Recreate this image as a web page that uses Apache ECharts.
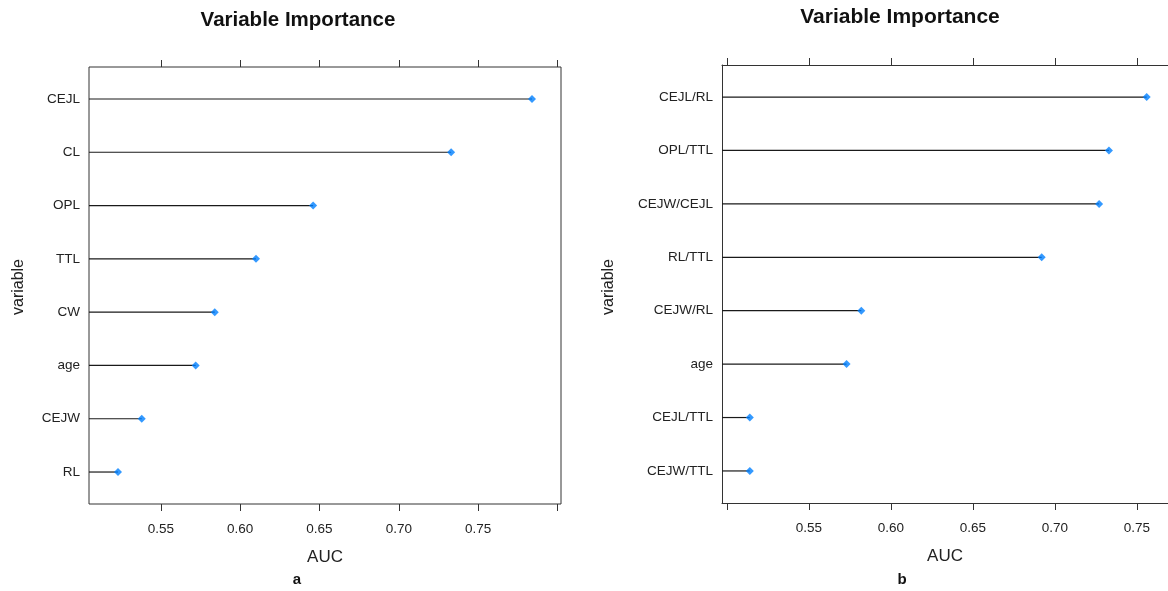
<!DOCTYPE html>
<html>
<head>
<meta charset="utf-8">
<script src="https://cdn.jsdelivr.net/npm/echarts@6/dist/echarts.min.js"></script>
<style>
  html, body { margin: 0; padding: 0; background: #fff; }
  #main { width: 1168px; height: 591px; }
</style>
</head>
<body>
<div id="main"></div>
<script>
// panel a: variables, top to bottom
var varsA = ['CEJL', 'CL', 'OPL', 'TTL', 'CW', 'age', 'CEJW', 'RL'];
var aucA = [0.784, 0.733, 0.646, 0.610, 0.584, 0.572, 0.538, 0.523];
var ticksA = [0.55, 0.60, 0.65, 0.70, 0.75, 0.80];
var tickLabelsA = [0.55, 0.60, 0.65, 0.70, 0.75];

// panel b: ratios, top to bottom
var varsB = ['CEJL/RL', 'OPL/TTL', 'CEJW/CEJL', 'RL/TTL', 'CEJW/RL', 'age', 'CEJL/TTL', 'CEJW/TTL'];
var aucB = [0.756, 0.733, 0.727, 0.692, 0.582, 0.573, 0.514, 0.514];
var ticksB = [0.50, 0.55, 0.60, 0.65, 0.70, 0.75];
var tickLabelsB = [0.55, 0.60, 0.65, 0.70, 0.75];

var FONT = 'Liberation Sans, Arial, sans-serif';
var LINE = '#1a1a1a';
var FRAME = '#333';
var DOT = '#0080ff';

// lattice style: 7% padding each side of the data range
function padRange(vals) {
  var lo = Math.min.apply(null, vals), hi = Math.max.apply(null, vals);
  var p = (hi - lo) * 0.07;
  return [lo - p, hi + p];
}
var rangeA = padRange(aucA);
// panel b is cut off at the right edge of the image
var rangeB = [padRange(aucB)[0], 0.769];

function points(vals) {
  return vals.map(function (v, i) { return [v, vals.length - i]; });
}

function xAxes(gi, range, ticks, labels, showLine) {
  var bottom = {
    type: 'value', gridIndex: gi, position: 'bottom',
    min: range[0], max: range[1],
    name: 'AUC', nameLocation: 'middle', nameGap: 45,
    nameTextStyle: { fontFamily: FONT, fontSize: 17, color: '#222' },
    axisLine: { show: showLine, lineStyle: { color: FRAME, width: 1 } },
    axisTick: { show: true, inside: false, length: 7, customValues: ticks, lineStyle: { color: FRAME } },
    axisLabel: {
      customValues: labels, margin: 18, fontFamily: FONT, fontSize: 13.5, color: '#222',
      formatter: function (v) { return v.toFixed(2); }
    },
    splitLine: { show: false }
  };
  var top = {
    type: 'value', gridIndex: gi, position: 'top',
    min: range[0], max: range[1],
    axisLine: { show: showLine, lineStyle: { color: FRAME, width: 1 } },
    axisTick: { show: true, inside: false, length: 7, customValues: ticks, lineStyle: { color: FRAME } },
    axisLabel: { show: false },
    splitLine: { show: false }
  };
  return [bottom, top];
}

function yAxis(gi, names, showLine) {
  var cv = names.map(function (n, i) { return i + 1; });
  return {
    type: 'value', gridIndex: gi, min: 0.4, max: names.length + 0.6,
    axisLine: { show: showLine, lineStyle: { color: FRAME, width: 1 } },
    axisTick: { show: false },
    splitLine: { show: false },
    axisLabel: {
      customValues: cv, margin: 9, fontFamily: FONT, fontSize: 13.5, color: '#222',
      formatter: function (v) { return names[names.length - Math.round(v)]; }
    }
  };
}

function stems(xi, yi, vals, xmin) {
  return {
    type: 'custom', xAxisIndex: xi, yAxisIndex: yi,
    data: points(vals),
    renderItem: function (params, api) {
      var y = api.value(1);
      var p0 = api.coord([xmin, y]);
      var p1 = api.coord([api.value(0), y]);
      return {
        type: 'line',
        shape: { x1: p0[0], y1: p0[1], x2: p1[0], y2: p1[1] },
        style: { stroke: LINE, lineWidth: 1.2 }
      };
    },
    silent: true
  };
}

function dots(xi, yi, vals) {
  return {
    type: 'scatter', xAxisIndex: xi, yAxisIndex: yi,
    data: points(vals),
    symbol: 'diamond', symbolSize: [8, 8],
    itemStyle: { color: DOT },
    z: 5, silent: true
  };
}

var xa = xAxes(0, rangeA, ticksA, tickLabelsA, false);
var xb = xAxes(1, rangeB, ticksB, tickLabelsB, true);

var option = {
  backgroundColor: '#fff',
  animation: false,
  grid: [
    { left: 89, top: 67, width: 472, height: 437, show: true, borderColor: FRAME, borderWidth: 1, containLabel: false },
    { left: 722, top: 65, right: 0, height: 438, show: false, containLabel: false }
  ],
  xAxis: [xa[0], xa[1], xb[0], xb[1]],
  yAxis: [yAxis(0, varsA, false), yAxis(1, varsB, true)],
  series: [
    stems(0, 0, aucA, rangeA[0]),
    dots(0, 0, aucA),
    stems(2, 1, aucB, rangeB[0]),
    dots(2, 1, aucB)
  ],
  graphic: [
    { type: 'text', x: 298, y: 20, style: { text: 'Variable Importance', font: 'bold 20.5px ' + FONT, fill: '#111', align: 'center', verticalAlign: 'middle' } },
    { type: 'text', x: 900, y: 17, style: { text: 'Variable Importance', font: 'bold 21px ' + FONT, fill: '#111', align: 'center', verticalAlign: 'middle' } },
    { type: 'text', x: 19, y: 287, rotation: Math.PI / 2, style: { text: 'variable', font: '16px ' + FONT, fill: '#222', align: 'center', verticalAlign: 'middle' } },
    { type: 'text', x: 609, y: 287, rotation: Math.PI / 2, style: { text: 'variable', font: '16px ' + FONT, fill: '#222', align: 'center', verticalAlign: 'middle' } },
    { type: 'text', x: 297, y: 580, style: { text: 'a', font: 'bold 15px ' + FONT, fill: '#111', align: 'center', verticalAlign: 'middle' } },
    { type: 'text', x: 902, y: 580, style: { text: 'b', font: 'bold 15px ' + FONT, fill: '#111', align: 'center', verticalAlign: 'middle' } }
  ]
};

var chart = echarts.init(document.getElementById('main'), null, { renderer: 'canvas' });
chart.setOption(option);
</script>
</body>
</html>
